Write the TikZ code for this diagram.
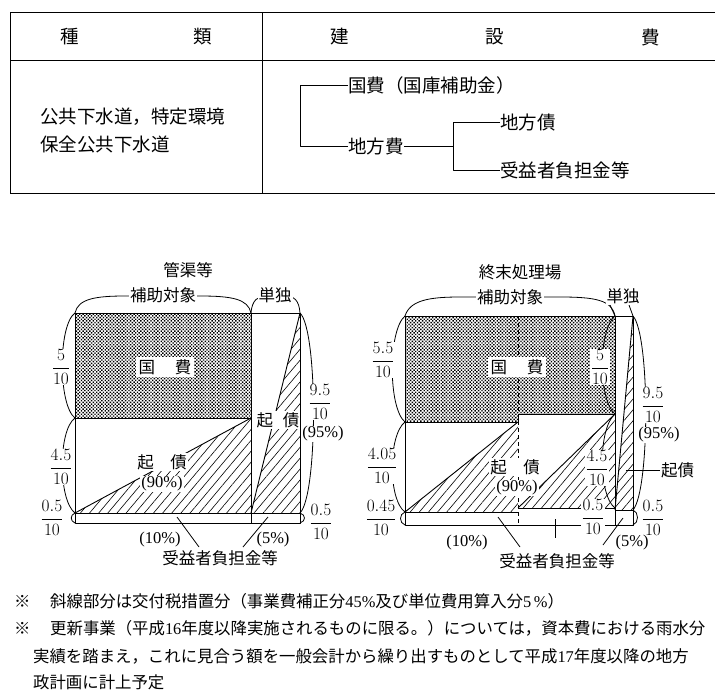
\documentclass[tikz,border=0pt]{standalone}
\usepackage{fontspec}
\setmainfont{Liberation Serif}
\newfontfamily\jp{Noto Sans CJK JP}
\usetikzlibrary{patterns,patterns.meta}
\newcommand{\jpA}{\jp\fontsize{18.5}{20}\selectfont}
\newcommand{\jpB}{\jp\fontsize{16.5}{18}\selectfont}
\newcommand{\jpC}{\jp\fontsize{16.4}{18}\selectfont}
\newcommand{\frcf}{\rmfamily\fontsize{17}{19}\selectfont}
\newcommand{\fracl}[2]{$\displaystyle\frac{#1}{#2}$}
\newcommand{\lt}[1]{{\rmfamily #1}}
\tikzset{
  tx/.style={inner sep=0pt, font=\jpA},
  lb/.style={inner sep=1pt, font=\jpB, fill=white},
  pc/.style={inner sep=1pt, font=\rmfamily\fontsize{16.5}{18}\selectfont, fill=white},
  fl/.style={inner sep=0.6pt, font=\frcf, fill=white},
  fn/.style={inner sep=0pt, font=\jpC, anchor=west},
  tl/.style={line width=1pt},
  cl/.style={line width=0.9pt},
  brc/.style={line width=0.8pt},
  dotpat/.style={pattern={Dots[distance=2.4pt, angle=45, radius=1.0pt]}, pattern color=black},
  hatch/.style={pattern={Lines[angle=50, distance=7pt, line width=0.6pt]}, pattern color=black}
}
\begin{document}
\begin{tikzpicture}[x=1pt,y=-1pt,line join=round]
\useasboundingbox[fill=white] (0,0) rectangle (715,696);

% ---------------- table ----------------
\draw[tl] (10,12) -- (715,12);
\draw[tl] (10,60) -- (715,60);
\draw[tl] (10,193) -- (715,193);
\draw[tl] (10,12) -- (10,193);
\draw[tl] (262,12) -- (262,193);
\node[tx] (h1) at (70,37) {種};
\node[tx] (h2) at (203,37) {類};
\node[tx] (h3) at (340,37) {建};
\node[tx] (h4) at (495,37) {設};
\node[tx] (h5) at (651,37) {費};
\node[tx,anchor=west] (k1) at (40,117) {公共下水道，特定環境};
\node[tx,anchor=west] (k2) at (40,144) {保全公共下水道};
\node[tx,anchor=west] (kh) at (348,85) {国費（国庫補助金）};
\node[tx,anchor=west] (ch) at (348,146) {地方費};
\node[tx,anchor=west] (cs) at (500,122) {地方債};
\node[tx,anchor=west] (jk) at (500,170) {受益者負担金等};
\coordinate (t1) at (300,0);
\coordinate (t2) at (453,0);
\draw[tl] (kh.west) -- (kh.west -| t1) -- (ch.west -| t1) -- (ch.west);
\draw[tl] (ch.east) -- (ch.east -| t2);
\draw[tl] (cs.west) -- (cs.west -| t2) -- (jk.west -| t2) -- (jk.west);

% ---------------- left chart ----------------
\fill[dotpat] (75,313) rectangle (251,418);
\fill[hatch] (75,513) -- (251,418) -- (251,513) -- cycle;
\fill[hatch] (300,313) -- (251,513) -- (300,513) -- cycle;
\draw[cl] (75,313) rectangle (300,523);
\draw[cl] (251,313) -- (251,523);
\draw[cl] (75,418) -- (251,418);
\draw[cl] (75,513) -- (300,513);
\draw[cl] (75,513) -- (251,418);
\draw[cl] (300,313) -- (251,513);
% braces
\draw[brc] (75,313) .. controls (78,299) and (95,296) .. (125,296) -- (200,296) .. controls (232,296) and (248,299) .. (251,313);
\draw[brc] (251,313) .. controls (252,300) and (258,296) .. (266,296) -- (285,296) .. controls (294,296) and (299,300) .. (300,313);
\draw[brc] (75,313) .. controls (58,325) and (58,405) .. (75,418);
\draw[brc] (75,418) .. controls (58,430) and (58,500) .. (75,513);
\draw[brc] (75,513) .. controls (70,515) and (70,521) .. (75,523);
\draw[brc] (300,313) .. controls (318,330) and (318,495) .. (300,513);
\draw[brc] (300,513) .. controls (306,515) and (306,521) .. (300,523);
\draw[brc] (177,517) -- (199,547);
\draw[brc] (268,517) -- (243,547);
% labels
\node[lb,fill=none] (c1) at (188,270) {管渠等};
\node[lb] (c1h) at (163,295) {補助対象};
\node[lb] (c1t) at (275,295) {単独};
\node[lb,inner xsep=3pt,inner ysep=2pt] (c1k) at (165,367) {国\hspace{1.2em}費};
\node[lb] (c1s) at (162,462) {起\hspace{1em}債};
\node[pc] (c1p) at (162,484) {(90\%)};
\node[lb] (c1s2) at (278,420) {起\hspace{0.6em}債};
\node[fl] (c1f1) at (61,367) {\fracl{5}{10}};
\node[fl] (c1f2) at (61,467) {\fracl{4.5}{10}};
\node[fl] (c1f3) at (52,518) {\fracl{0.5}{10}};
\node[fl] (c1f4) at (320,402) {\fracl{9.5}{10}};
\node[pc] (c1f5) at (323,434) {(95\%)};
\node[fl] (c1f6) at (321,522) {\fracl{0.5}{10}};
\node[pc] (c1b1) at (160,540) {(10\%)};
\node[pc] (c1b2) at (273,540) {(5\%)};
\node[lb] (c1b3) at (220,558) {受益者負担金等};

% ---------------- right chart ----------------
\fill[dotpat] (405,316) -- (615,316) -- (615,414) -- (518,414) -- (518,422) -- (405,422) -- cycle;
\fill[hatch] (405,512) -- (518,422) -- (518,512) -- cycle;
\fill[hatch] (518,508) -- (615,414) -- (615,508) -- cycle;
\fill[hatch] (633,316) -- (615,510) -- (633,510) -- cycle;
\draw[cl] (405,316) rectangle (633,525);
\draw[cl] (615,316) -- (615,525);
\draw[cl] (405,422) -- (518,422) -- (518,414) -- (615,414);
\draw[cl] (405,512) -- (518,512);
\draw[cl] (518,508) -- (615,508);
\draw[cl] (615,510) -- (633,510);
\draw[cl] (405,512) -- (518,422);
\draw[cl] (518,508) -- (615,414);
\draw[cl] (633,316) -- (615,510);
\draw[cl,dash pattern=on 4pt off 3pt] (518,316) -- (518,525);
% braces
\draw[brc] (405,316) .. controls (410,300) and (430,297) .. (460,297) -- (560,297) .. controls (595,297) and (612,300) .. (615,316);
\draw[brc] (615,316) -- (610,305);
\draw[brc] (633,316) -- (629,305);
\draw[brc] (405,316) .. controls (388,330) and (388,408) .. (405,422);
\draw[brc] (405,422) .. controls (388,435) and (388,500) .. (405,512);
\draw[brc] (405,512) .. controls (399,514) and (399,523) .. (405,525);
\draw[brc] (615,316) .. controls (598,330) and (598,400) .. (615,414);
\draw[brc] (615,414) .. controls (598,428) and (598,495) .. (615,508);
\draw[brc] (633,316) .. controls (650,335) and (650,490) .. (633,510);
\draw[brc] (633,510) .. controls (639,512) and (639,523) .. (633,525);
\draw[brc] (498,517) -- (520,547);
\draw[brc] (555,519) -- (555,538);
\draw[brc] (623,518) -- (603,545);
\draw[brc] (626,470) -- (660,470);
% labels
\node[lb,fill=none] (c2) at (520,272) {終末処理場};
\node[lb] (c2h) at (510,297) {補助対象};
\node[lb] (c2t) at (623,296) {単独};
\node[lb,inner xsep=3pt,inner ysep=2pt] (c2k) at (517,367) {国\hspace{1.2em}費};
\node[lb] (c2s) at (515,467) {起\hspace{1em}債};
\node[pc] (c2p) at (517,488) {(90\%)};
\node[fl] (c2f1) at (383,360) {\fracl{5.5}{10}};
\node[fl] (c2f2) at (382,466) {\fracl{4.05}{10}};
\node[fl] (c2f3) at (381,518) {\fracl{0.45}{10}};
\node[fl] (c2f4) at (600,367) {\fracl{5}{10}};
\node[fl] (c2f5) at (597,468) {\fracl{4.5}{10}};
\node[fl] (c2f6) at (593,517) {\fracl{0.5}{10}};
\node[fl] (c2f7) at (653,405) {\fracl{9.5}{10}};
\node[pc] (c2f8) at (659,435) {(95\%)};
\node[fl] (c2f9) at (653,518) {\fracl{0.5}{10}};
\node[lb,anchor=west] (c2g) at (660,470) {起債};
\node[pc] (c2b1) at (467,543) {(10\%)};
\node[pc] (c2b2) at (632,543) {(5\%)};
\node[lb] (c2b3) at (557,561) {受益者負担金等};

% ---------------- notes ----------------
\node[fn] (n1a) at (14,601) {※};
\node[fn] (n1) at (50,601) {斜線部分は交付税措置分（事業費補正分\lt{45\%}及び単位費用算入分\lt{5\,\%}）};
\node[fn] (n2a) at (14,628) {※};
\node[fn] (n2) at (50,628) {更新事業（平成\lt{16}年度以降実施されるものに限る。）については，資本費における雨水分};
\node[fn] (n3) at (33,656) {実績を踏まえ，これに見合う額を一般会計から繰り出すものとして平成\lt{17}年度以降の地方};
\node[fn] (n4) at (33,682) {政計画に計上予定};
\end{tikzpicture}
\end{document}
